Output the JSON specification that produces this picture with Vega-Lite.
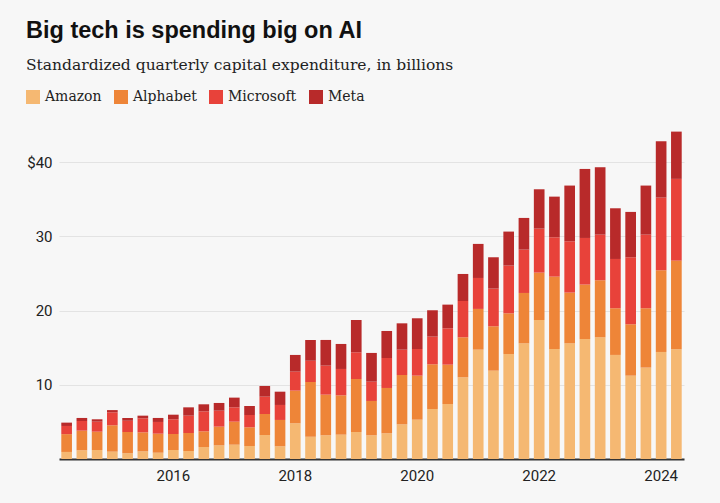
{
  "$schema": "https://vega.github.io/schema/vega-lite/v6.json",
  "width": 625,
  "height": 334,
  "autosize": {"type": "none"},
  "padding": {"left": 59, "top": 125, "right": 36, "bottom": 44},
  "background": "#f7f7f7",
  "view": {"stroke": null},
  "title": {
    "text": "Big tech is spending big on AI",
    "subtitle": "Standardized quarterly capital expenditure, in billions",
    "anchor": "start",
    "frame": "group",
    "dx": -33,
    "offset": 17,
    "font": "Liberation Sans",
    "fontSize": 23.5,
    "fontWeight": 700,
    "color": "#111111",
    "subtitleFont": "DejaVu Serif",
    "subtitleFontSize": 15.5,
    "subtitleColor": "#222222",
    "subtitlePadding": 15
  },
  "datasets": {
    "ranks": [
      {"company": "Amazon", "rank": 1},
      {"company": "Alphabet", "rank": 2},
      {"company": "Microsoft", "rank": 3},
      {"company": "Meta", "rank": 4}
    ]
  },
  "data": {
    "values": [
      {"q": "2014-Q2", "Amazon": 0.95, "Alphabet": 2.4, "Microsoft": 1.1, "Meta": 0.45},
      {"q": "2014-Q3", "Amazon": 1.17, "Alphabet": 2.65, "Microsoft": 1.3, "Meta": 0.41},
      {"q": "2014-Q4", "Amazon": 1.21, "Alphabet": 2.47, "Microsoft": 1.35, "Meta": 0.32},
      {"q": "2015-Q1", "Amazon": 0.99, "Alphabet": 3.55, "Microsoft": 1.75, "Meta": 0.3},
      {"q": "2015-Q2", "Amazon": 0.76, "Alphabet": 2.88, "Microsoft": 1.53, "Meta": 0.36},
      {"q": "2015-Q3", "Amazon": 1.03, "Alphabet": 2.56, "Microsoft": 1.89, "Meta": 0.36},
      {"q": "2015-Q4", "Amazon": 0.85, "Alphabet": 2.56, "Microsoft": 1.58, "Meta": 0.54},
      {"q": "2016-Q1", "Amazon": 1.21, "Alphabet": 2.16, "Microsoft": 1.98, "Meta": 0.62},
      {"q": "2016-Q2", "Amazon": 1.08, "Alphabet": 2.42, "Microsoft": 2.34, "Meta": 1.12},
      {"q": "2016-Q3", "Amazon": 1.62, "Alphabet": 2.11, "Microsoft": 2.69, "Meta": 0.95},
      {"q": "2016-Q4", "Amazon": 1.84, "Alphabet": 2.52, "Microsoft": 2.15, "Meta": 1.04},
      {"q": "2017-Q1", "Amazon": 1.93, "Alphabet": 3.1, "Microsoft": 1.93, "Meta": 1.31},
      {"q": "2017-Q2", "Amazon": 1.75, "Alphabet": 2.52, "Microsoft": 1.66, "Meta": 1.21},
      {"q": "2017-Q3", "Amazon": 3.23, "Alphabet": 2.83, "Microsoft": 2.34, "Meta": 1.44},
      {"q": "2017-Q4", "Amazon": 1.71, "Alphabet": 3.55, "Microsoft": 2.02, "Meta": 1.79},
      {"q": "2018-Q1", "Amazon": 4.81, "Alphabet": 4.4, "Microsoft": 2.56, "Meta": 2.25},
      {"q": "2018-Q2", "Amazon": 3.01, "Alphabet": 7.37, "Microsoft": 2.87, "Meta": 2.79},
      {"q": "2018-Q3", "Amazon": 3.19, "Alphabet": 5.48, "Microsoft": 3.91, "Meta": 3.46},
      {"q": "2018-Q4", "Amazon": 3.28, "Alphabet": 5.3, "Microsoft": 3.55, "Meta": 3.37},
      {"q": "2019-Q1", "Amazon": 3.64, "Alphabet": 7.14, "Microsoft": 3.6, "Meta": 4.35},
      {"q": "2019-Q2", "Amazon": 3.19, "Alphabet": 4.63, "Microsoft": 2.6, "Meta": 3.87},
      {"q": "2019-Q3", "Amazon": 3.46, "Alphabet": 6.11, "Microsoft": 4.04, "Meta": 3.64},
      {"q": "2019-Q4", "Amazon": 4.67, "Alphabet": 6.65, "Microsoft": 3.41, "Meta": 3.55},
      {"q": "2020-Q1", "Amazon": 5.3, "Alphabet": 5.93, "Microsoft": 3.59, "Meta": 4.14},
      {"q": "2020-Q2", "Amazon": 6.74, "Alphabet": 6.02, "Microsoft": 3.73, "Meta": 3.55},
      {"q": "2020-Q3", "Amazon": 7.41, "Alphabet": 5.3, "Microsoft": 4.9, "Meta": 3.19},
      {"q": "2020-Q4", "Amazon": 11.01, "Alphabet": 5.39, "Microsoft": 4.89, "Meta": 3.64},
      {"q": "2021-Q1", "Amazon": 14.73, "Alphabet": 5.49, "Microsoft": 4.17, "Meta": 4.59},
      {"q": "2021-Q2", "Amazon": 11.9, "Alphabet": 5.98, "Microsoft": 5.08, "Meta": 4.22},
      {"q": "2021-Q3", "Amazon": 14.15, "Alphabet": 5.48, "Microsoft": 6.43, "Meta": 4.58},
      {"q": "2021-Q4", "Amazon": 15.59, "Alphabet": 6.78, "Microsoft": 5.84, "Meta": 4.27},
      {"q": "2022-Q1", "Amazon": 18.73, "Alphabet": 6.38, "Microsoft": 5.93, "Meta": 5.3},
      {"q": "2022-Q2", "Amazon": 14.82, "Alphabet": 9.75, "Microsoft": 5.3, "Meta": 5.48},
      {"q": "2022-Q3", "Amazon": 15.59, "Alphabet": 6.83, "Microsoft": 6.91, "Meta": 7.51},
      {"q": "2022-Q4", "Amazon": 16.17, "Alphabet": 7.33, "Microsoft": 6.28, "Meta": 9.3},
      {"q": "2023-Q1", "Amazon": 16.4, "Alphabet": 7.68, "Microsoft": 6.15, "Meta": 9.08},
      {"q": "2023-Q2", "Amazon": 14.02, "Alphabet": 6.29, "Microsoft": 6.64, "Meta": 6.83},
      {"q": "2023-Q3", "Amazon": 11.23, "Alphabet": 6.92, "Microsoft": 9.03, "Meta": 6.11},
      {"q": "2023-Q4", "Amazon": 12.31, "Alphabet": 8.0, "Microsoft": 9.92, "Meta": 6.61},
      {"q": "2024-Q1", "Amazon": 14.42, "Alphabet": 11.01, "Microsoft": 9.79, "Meta": 7.59},
      {"q": "2024-Q2", "Amazon": 14.78, "Alphabet": 11.95, "Microsoft": 11.01, "Meta": 6.37}
    ]
  },
  "transform": [
    {"fold": ["Amazon", "Alphabet", "Microsoft", "Meta"], "as": ["company", "value"]},
    {"lookup": "company", "from": {"data": {"name": "ranks"}, "key": "company", "fields": ["rank"]}}
  ],
  "mark": {"type": "bar"},
  "encoding": {
    "x": {
      "field": "q",
      "type": "ordinal",
      "scale": {"paddingInner": 0.3, "paddingOuter": 0.15},
      "axis": {
        "title": null,
        "labelAngle": 0,
        "ticks": false,
        "labelOverlap": false,
        "labelExpr": "substring(datum.value,5)=='Q1' && toNumber(substring(datum.value,0,4))%2==0 ? substring(datum.value,0,4) : ''",
        "labelFont": "Roboto",
        "labelFontSize": 15,
        "labelColor": "#222222",
        "labelPadding": 9,
        "labelDx": 4,
        "domainColor": "#333333",
        "domainWidth": 2
      }
    },
    "y": {
      "field": "value",
      "type": "quantitative",
      "stack": "zero",
      "scale": {"domain": [0, 45], "nice": false},
      "axis": {
        "title": null,
        "values": [10, 20, 30, 40],
        "labelExpr": "datum.value == 40 ? '$40' : datum.label",
        "domain": false,
        "ticks": false,
        "gridColor": "#e3e3e3",
        "gridWidth": 1,
        "labelFont": "Roboto",
        "labelFontSize": 15,
        "labelColor": "#222222",
        "labelPadding": 7
      }
    },
    "order": {"field": "rank", "type": "quantitative", "sort": "ascending"},
    "color": {
      "field": "company",
      "type": "nominal",
      "scale": {
        "domain": ["Amazon", "Alphabet", "Microsoft", "Meta"],
        "range": ["#f5b872", "#ee8538", "#e8423a", "#b82a2a"]
      },
      "legend": {
        "title": null,
        "orient": "none",
        "direction": "horizontal",
        "legendX": -33,
        "legendY": -35,
        "symbolType": "square",
        "symbolSize": 196,
        "symbolStrokeWidth": 0,
        "symbolOpacity": 1,
        "labelFont": "DejaVu Serif",
        "labelFontSize": 14,
        "labelColor": "#222222",
        "labelOffset": 5,
        "columnPadding": 12
      }
    }
  }
}
